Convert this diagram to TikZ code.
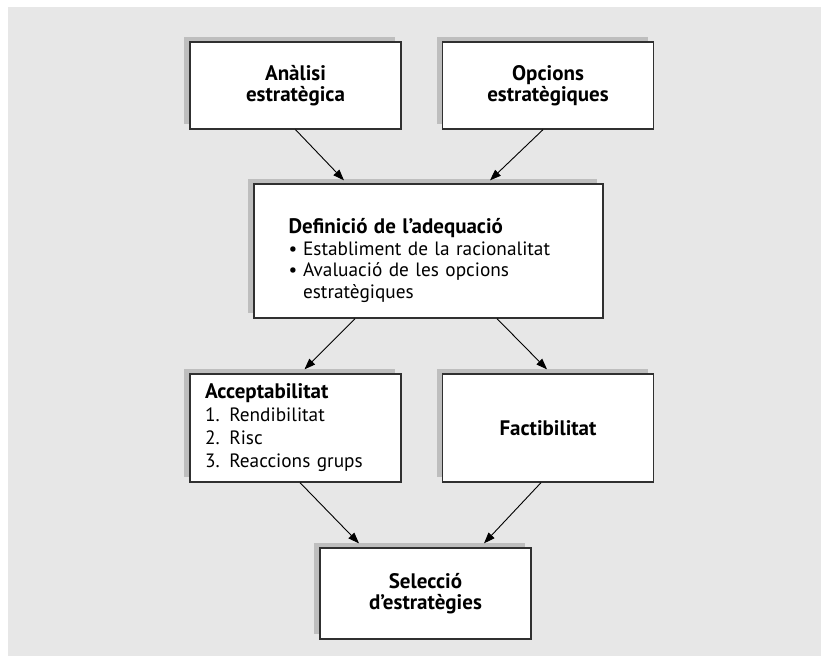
\documentclass[tikz,border=0pt]{standalone}
\usepackage{fontspec}
\setmainfont{PT Sans}
\usetikzlibrary{shadows,arrows.meta}
\definecolor{bggrey}{HTML}{E7E7E7}
\definecolor{shgrey}{HTML}{BEBEBE}
\definecolor{edgec}{HTML}{303030}
\newcommand{\regtext}{\fontsize{19.3}{21.5}\selectfont\mdseries}
\newcommand{\boldtext}{\fontsize{21}{21.5}\selectfont\bfseries}
\begin{document}
\begin{tikzpicture}[x=1pt,y=-1pt,
  box/.style={draw=edgec, line width=1.3pt, fill=white,
    general shadow={fill=shgrey, shadow xshift=-6pt, shadow yshift=5pt},
    inner sep=0pt, align=center, minimum width=211pt,
    font=\fontsize{21}{21.5}\selectfont\bfseries},
  txt/.style={inner sep=0pt, align=left, font=\fontsize{19.3}{21.5}\selectfont},
  conn/.style={line width=0.9pt, -{Triangle[length=11pt,width=8pt]}},
]
\fill[bggrey] (8,7) rectangle (821,656);
\useasboundingbox (0,0) rectangle (821,656);

\node[box, minimum height=87pt] (b1) at (295.5,85.5) {Anàlisi\\estratègica};
\node[box, minimum height=87pt] (b2) at (548,85.5) {Opcions\\estratègiques};
\node[box, minimum width=349pt, minimum height=134pt] (b3) at (428.5,251) {};
\node[txt, anchor=north west, text width=300pt] (t3) at ([xshift=35pt,yshift=-35pt]b3.north west)
  {{\boldtext Definició de l’adequació}\\
   \makebox[14.5pt][l]{•}Establiment de la racionalitat\\
   \makebox[14.5pt][l]{•}Avaluació de les opcions\\
   \hspace*{14.5pt}estratègiques};
\node[box, minimum height=108pt, text width=181pt, align=left,
  font=\fontsize{19.3}{23}\selectfont] (b4) at (295.5,428)
  {{\fontsize{21}{23}\selectfont\bfseries Acceptabilitat}\\1. Rendibilitat\\2. Risc\\3. Reaccions grups};
\node[box, minimum height=108pt] (b5) at (548,428) {Factibilitat};
\node[box, minimum height=91pt] (b6) at (425.5,593.5) {Selecció\\d’estratègies};

\draw[conn] (b1.south) -- ([xshift=-84.5pt,yshift=3pt]b3.north);
\draw[conn] ([xshift=-5pt]b2.south) -- ([xshift=61.5pt,yshift=3pt]b3.north);
\draw[conn] ([xshift=-73.5pt]b3.south) -- ([xshift=9pt,yshift=4pt]b4.north);
\draw[conn] ([xshift=68.5pt]b3.south) -- ([xshift=-1pt,yshift=4pt]b5.north);
\draw[conn] ([xshift=4.5pt]b4.south) -- ([xshift=-66.5pt,yshift=4pt]b6.north);
\draw[conn] ([xshift=-7pt]b5.south) -- ([xshift=58.5pt,yshift=4pt]b6.north);
\end{tikzpicture}
\end{document}
